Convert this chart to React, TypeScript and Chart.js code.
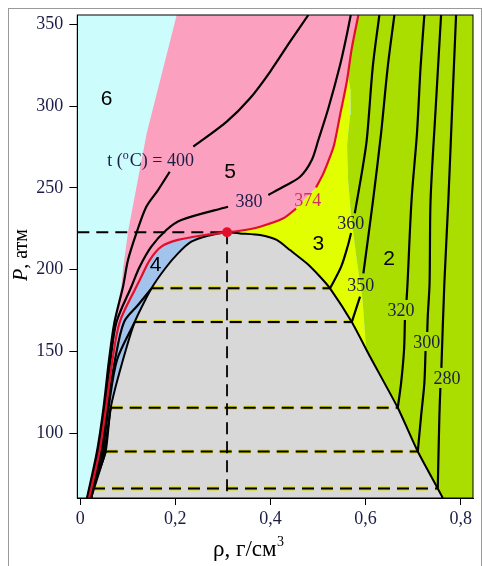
import React, { useEffect, useRef } from 'react';
import { Chart, registerables } from 'chart.js';

Chart.register(...registerables);

// ---------- axes ----------
const X_MIN = -0.006;
const X_MAX = 0.826;
const Y_MIN = 60.45;
const Y_MAX = 355.7;
const xTicks = [0, 0.2, 0.4, 0.6, 0.8];
const yTicks = [100, 150, 200, 250, 300, 350];

// ---------- critical point ----------
const critRho = 0.3088;
const critP = 222.9;

// ---------- isotherms (rho g/cm3, P atm); null = break for label ----------
const t400Rho = [0.0144, 0.0354, 0.0491, 0.0607, 0.0722, 0.0901, 0.1006, 0.1181, 0.1391, 0.1637, 0.1883, null, 0.238, 0.3082, 0.3572, 0.3993, 0.4413, 0.4798];
const t400P = [60.45, 88.9, 115.6, 144.8, 168.0, 189.6, 205.9, 222.2, 238.5, 248.7, 259.9, null, 275.2, 290.5, 304.8, 321.0, 339.4, 355.7];

const t380Rho = [0.0155, 0.0375, 0.0512, 0.0638, 0.0764, 0.1076, 0.1252, 0.1496, 0.1812, 0.2127, 0.3109, null, 0.3957, 0.4272, 0.4624, 0.487, 0.5008, 0.5219, 0.5465, 0.5606, 0.569];
const t380P = [60.45, 88.9, 115.6, 144.8, 168.0, 189.6, 201.8, 214.1, 224.3, 230.4, 238.5, null, 245.7, 250.7, 256.8, 267.1, 279.3, 298.7, 325.1, 343.5, 355.7];

const t374Rho = [0.0186, 0.0407, 0.0544, 0.068, 0.0832, 0.1181, 0.1286, 0.1463, 0.1707, 0.2058, 0.2619, 0.3088, 0.3362, 0.3782, 0.4272, 0.454, null, 0.496, 0.5114, 0.5254, 0.5338, 0.5465, 0.5606, 0.5711, 0.585];
const t374P = [60.45, 88.9, 115.6, 144.8, 168.0, 189.6, 195.7, 205.9, 214.1, 218.2, 221.2, 222.9, 223.8, 226.3, 231.4, 237.4, null, 250.3, 258.9, 269.1, 276.2, 294.6, 314.9, 335.3, 355.7];

const t360Rho = [0.0197, 0.0438, 0.0575, 0.0733, 0.0922, 0.1217, 0.15, null, 0.5254, 0.5486, 0.5633, 0.5696, null, 0.5774, 0.592, 0.6026, 0.6153, 0.6291];
const t360P = [60.45, 88.9, 115.6, 144.8, 168.0, 178.4, 188.6, null, 188.6, 201.7, 215.1, 222.4, null, 234.5, 258.9, 279.3, 324.1, 355.7];

const t350Rho = [0.0207, 0.047, 0.0596, 0.0775, 0.1147, null, 0.5711, 0.5885, null, 0.5955, 0.6159, 0.6327, 0.6468, 0.6607];
const t350P = [60.45, 88.9, 115.6, 144.8, 168.0, null, 168.0, 183.5, null, 197.8, 242.6, 283.4, 324.1, 355.7];

const t320Rho = [0.0218, 0.0502, 0.0642, null, 0.6678, 0.6748, 0.681, 0.6828, null, 0.6863, 0.6884, 0.6968, 0.7082, 0.7158, 0.7237];
const t320P = [60.45, 88.9, 115.6, null, 115.6, 130.7, 150.9, 169.3, null, 181.5, 191.9, 242.6, 283.4, 324.1, 355.7];

const t300Rho = [0.0228, 0.0537, null, 0.7099, 0.7168, 0.7237, 0.7262, null, 0.7298, 0.7309, 0.7347, 0.7368, 0.7473, 0.7589];
const t300P = [60.45, 88.9, null, 88.9, 110.4, 130.7, 150.3, null, 161.9, 171.5, 191.9, 242.6, 297.6, 355.7];

const t280Rho = [0.0239, 0.027, null, 0.7519, 0.7553, 0.7574, null, 0.7595, 0.7658, 0.7742, 0.782, 0.7904];
const t280P = [60.45, 66.3, null, 66.3, 110.4, 127.7, null, 140.0, 191.9, 242.6, 297.6, 355.7];

// ---------- saturation (two-phase) dome and tie lines ----------
const domeRho = [0.0218, 0.027, 0.0537, 0.0642, 0.087, 0.1147, 0.15, 0.1791, 0.2058, 0.2337, 0.2689, 0.3088, 0.3362, 0.3782, 0.4133, 0.4413, 0.4764, 0.5044, 0.5254, 0.5711, 0.6096, 0.6678, 0.7099, 0.7519, 0.7625];
const domeP = [60.45, 66.3, 88.9, 115.6, 141.8, 168.0, 188.6, 200.9, 210.0, 217.1, 220.8, 222.9, 222.2, 221.2, 218.2, 212.0, 203.9, 195.7, 188.6, 168.0, 146.8, 115.6, 88.9, 66.3, 60.45];

const satP = [66.3, 88.9, 115.6, 168.0, 188.6];
const satRhoVap = [0.027, 0.0537, 0.0642, 0.1147, 0.15];
const satRhoLiq = [0.7519, 0.7099, 0.6678, 0.5711, 0.5254];

// ---------- region boundaries ----------
// cyan (6) / pink (5) boundary, top to bottom
const edge65Rho = [0.203, 0.1399, 0.1013, 0.0907, 0.0865, 0.0705, 0.0595, 0.0483, 0.0345, 0.014];
const edge65P = [355.7, 283.4, 224.3, 201.8, 189.6, 168.0, 144.8, 115.6, 88.9, 60.45];
// yellow (3) / green (2) boundary, from red curve down to the dome
const edge32Rho = [0.5627, 0.5686, 0.5675, 0.5612, 0.5633, 0.5696, 0.5801, 0.5938, 0.6012];
const edge32P = [319.0, 309.8, 294.6, 276.2, 254.8, 233.4, 209.0, 181.5, 151.5];

// ---------- labels ----------
const regionTexts = ['6', '5', '4', '3', '2'];
const regionRho = [0.0554, 0.3151, 0.1585, 0.5008, 0.6495];
const regionP = [305.3, 260.6, 203.5, 216.6, 207.5];

const isoTexts = ['380', '374', '360', '350', '320', '300', '280'];
const isoRho = [0.3551, 0.4788, 0.5692, 0.5902, 0.6748, 0.729, 0.7711];
const isoP = [242.0, 242.6, 228.4, 190.6, 175.6, 155.8, 133.8];

const legendParts = ['t (', 'o', 'C) = 400'];
const legendRho = 0.2394; // right end
const legendP = 267.1;

// ---------- styles ----------
const SERIF = '"Liberation Serif", "Times New Roman", serif';
const SANS = '"Liberation Sans", Arial, sans-serif';
const CYAN = '#ccfcfc';
const PINK = '#fca0c0';
const BLUE = '#a2c4ec';
const YELLOW = '#e2ff00';
const GREEN = '#aade00';
const GRAY = '#d8d8d8';
const RED = '#e0102a';
const NAVY = '#1c1c48';
const TEXT_RED = '#d0305c';

type Pt = { x: number; y: number };
const toPts = (rho: (number | null)[], p: (number | null)[]): Pt[] =>
  rho.map((r, i) => (r === null || p[i] === null ? { x: NaN, y: NaN } : { x: r as number, y: p[i] as number }));
const pairs = (rho: (number | null)[], p: (number | null)[]): [number, number][] =>
  rho
    .map((r, i) => [r, p[i]] as [number | null, number | null])
    .filter(([r, v]) => r !== null && v !== null) as [number, number][];
const xy = (arr: [number, number][]): Pt[] => arr.map(([x, y]) => ({ x, y }));

function zeroPad(s: any) {
  s.paddingTop = 0;
  s.paddingBottom = 0;
  s.paddingLeft = 0;
  s.paddingRight = 0;
}

function buildConfig(): any {
  const red = pairs(t374Rho, t374P);
  const redLower = red.filter(([r]) => r <= critRho);
  const redUpper = red.filter(([r]) => r >= critRho);
  const dome = pairs(domeRho, domeP);
  const ci = dome.findIndex(([r, p]) => r === critRho && p === critP);
  const domeLeft = dome.slice(0, ci + 1);
  const domeRight = dome.slice(ci);
  const e65 = pairs(edge65Rho, edge65P);
  const e32 = pairs(edge32Rho, edge32P);
  const apex = e32[0];
  const tip = e32[e32.length - 1];

  const pink = [...e65, ...red];
  const blue = [...redLower, ...domeLeft.slice().reverse()];
  const yellow = [
    ...redUpper.filter(([, p]) => p < apex[1]),
    ...e32,
    ...domeRight.filter(([, p]) => p > tip[1]).reverse(),
  ];
  const green: [number, number][] = [
    ...redUpper.filter(([, p]) => p > apex[1]),
    [X_MAX, Y_MAX],
    [X_MAX, Y_MIN],
    ...domeRight.filter(([, p]) => p < tip[1]).reverse(),
    ...e32.slice().reverse(),
  ];

  const tie: Pt[] = [];
  satP.forEach((p, i) => {
    tie.push({ x: satRhoVap[i], y: p }, { x: satRhoLiq[i], y: p }, { x: NaN, y: NaN });
  });
  const critLines: Pt[] = [
    { x: X_MIN, y: critP },
    { x: critRho, y: critP },
    { x: NaN, y: NaN },
    { x: critRho, y: critP },
    { x: critRho, y: Y_MIN },
  ];

  const fillDs = (data: Pt[], color: string, order: number) => ({
    data, showLine: true, fill: 'shape', backgroundColor: color, borderWidth: 0, borderColor: 'rgba(0,0,0,0)',
    pointRadius: 0, tension: 0, order,
  });
  const lineDs = (data: Pt[], color: string, width: number, order: number, dash: number[] = [], tension = 0.3) => ({
    data, showLine: true, fill: false, borderColor: color, borderWidth: width, pointRadius: 0, tension,
    order, borderDash: dash, borderCapStyle: 'butt', borderJoinStyle: 'round',
  });

  const datasets = [
    fillDs(xy(pink), PINK, 100),
    fillDs(xy(blue), BLUE, 99),
    fillDs(xy(yellow), YELLOW, 98),
    fillDs(xy(green), GREEN, 97),
    fillDs(xy(dome), GRAY, 96),
    lineDs(tie, '#d8d800', 4, 60, [12, 7], 0),
    lineDs(tie, '#000', 2, 59, [12, 7], 0),
    lineDs(critLines, '#000', 1.8, 58, [12, 7], 0),
    lineDs(xy(dome), '#000', 2, 50, [], 0.2),
    lineDs(toPts(t400Rho, t400P), '#000', 2.2, 30),
    lineDs(toPts(t380Rho, t380P), '#000', 2.2, 30),
    lineDs(toPts(t360Rho, t360P), '#000', 2.2, 30),
    lineDs(toPts(t350Rho, t350P), '#000', 2.2, 30),
    lineDs(toPts(t320Rho, t320P), '#000', 2.2, 30),
    lineDs(toPts(t300Rho, t300P), '#000', 2.2, 30),
    lineDs(toPts(t280Rho, t280P), '#000', 2.2, 30),
    lineDs(toPts(t374Rho, t374P), RED, 2.2, 20),
    {
      data: [{ x: critRho, y: critP }], showLine: false, pointRadius: 5, pointBackgroundColor: RED,
      pointBorderWidth: 0, pointBorderColor: RED, order: 0,
    },
  ];

  const decor = {
    id: 'decor',
    beforeDraw(chart: any) {
      const { ctx, chartArea: a } = chart;
      ctx.save();
      ctx.fillStyle = CYAN;
      ctx.fillRect(a.left, a.top, a.right - a.left, a.bottom - a.top);
      ctx.restore();
    },
    afterDatasetsDraw(chart: any) {
      const { ctx, scales } = chart;
      const xs = scales.x;
      const ys = scales.y;
      ctx.save();
      ctx.textBaseline = 'alphabetic';
      ctx.textAlign = 'center';
      ctx.font = `21px ${SANS}`;
      ctx.fillStyle = '#000';
      regionTexts.forEach((t, i) => {
        ctx.fillText(t, xs.getPixelForValue(regionRho[i]), ys.getPixelForValue(regionP[i]) + 7.5);
      });
      ctx.font = `18px ${SERIF}`;
      isoTexts.forEach((t, i) => {
        ctx.fillStyle = t === '374' ? TEXT_RED : NAVY;
        ctx.fillText(t, xs.getPixelForValue(isoRho[i]), ys.getPixelForValue(isoP[i]) + 6);
      });
      // legend "t (ºC) = 400"
      ctx.textAlign = 'left';
      ctx.fillStyle = NAVY;
      ctx.font = `18px ${SERIF}`;
      const w1 = ctx.measureText(legendParts[0]).width;
      const w3 = ctx.measureText(legendParts[2]).width;
      ctx.font = `12px ${SERIF}`;
      const w2 = ctx.measureText(legendParts[1]).width;
      const right = xs.getPixelForValue(legendRho);
      const base = ys.getPixelForValue(legendP) + 6;
      let x0 = right - (w1 + w2 + w3 + 1);
      ctx.font = `18px ${SERIF}`;
      ctx.fillText(legendParts[0], x0, base);
      x0 += w1;
      ctx.font = `12px ${SERIF}`;
      ctx.fillText(legendParts[1], x0, base - 7);
      x0 += w2 + 1;
      ctx.font = `18px ${SERIF}`;
      ctx.fillText(legendParts[2], x0, base);
      ctx.restore();
    },
    afterDraw(chart: any) {
      const { ctx, chartArea: a } = chart;
      ctx.save();
      ctx.strokeStyle = '#000';
      ctx.lineWidth = 1;
      ctx.strokeRect(a.left, a.top, a.right - a.left, a.bottom - a.top);
      // y title
      ctx.fillStyle = '#000';
      ctx.save();
      ctx.translate(17.5, 246);
      ctx.rotate(-Math.PI / 2);
      ctx.textAlign = 'left';
      ctx.textBaseline = 'alphabetic';
      ctx.font = `italic 20px ${SERIF}`;
      const wp = ctx.measureText('P').width;
      ctx.font = `20px ${SERIF}`;
      const wr = ctx.measureText(', атм').width;
      let sx = -(wp + wr) / 2;
      ctx.font = `italic 20px ${SERIF}`;
      ctx.fillText('P', sx, 0);
      sx += wp;
      ctx.font = `20px ${SERIF}`;
      ctx.fillText(', атм', sx, 0);
      ctx.restore();
      // x title
      ctx.textAlign = 'left';
      ctx.textBaseline = 'alphabetic';
      ctx.font = `23px ${SERIF}`;
      const main = 'ρ, г/см';
      const wm = ctx.measureText(main).width;
      ctx.fillText(main, 204, 547);
      ctx.font = `14px ${SERIF}`;
      ctx.fillText('3', 204 + wm + 0.5, 537);
      ctx.restore();
    },
  };

  return {
    type: 'scatter',
    data: { datasets },
    options: {
      responsive: false,
      animation: false,
      devicePixelRatio: 1,
      events: [],
      layout: { padding: { left: 0, top: 6, right: 8, bottom: 0 } },
      plugins: { legend: { display: false }, tooltip: { enabled: false } },
      scales: {
        x: {
          type: 'linear',
          min: X_MIN,
          max: X_MAX,
          afterBuildTicks: (s: any) => {
            s.ticks = xTicks.map((v) => ({ value: v }));
          },
          afterFit: (s: any) => {
            s.height = 68;
            zeroPad(s);
          },
          ticks: {
            font: { family: SERIF, size: 18 },
            color: NAVY,
            padding: 3,
            autoSkip: false,
            maxRotation: 0,
            callback: (v: any) => String(v).replace('.', ','),
          },
          grid: { drawOnChartArea: false, tickLength: 7, color: '#000', tickWidth: 1 },
          border: { color: '#000', width: 1 },
        },
        y: {
          type: 'linear',
          min: Y_MIN,
          max: Y_MAX,
          afterBuildTicks: (s: any) => {
            s.ticks = yTicks.map((v) => ({ value: v }));
          },
          afterFit: (s: any) => {
            s.width = 68.3;
            zeroPad(s);
          },
          ticks: {
            font: { family: SERIF, size: 18 },
            color: NAVY,
            padding: 6,
            autoSkip: false,
          },
          grid: { drawOnChartArea: false, tickLength: 8, color: '#000', tickWidth: 1 },
          border: { color: '#000', width: 1 },
        },
      },
    },
    plugins: [decor],
  };
}

export default function App() {
  const ref = useRef<HTMLCanvasElement | null>(null);
  useEffect(() => {
    if (!ref.current) return;
    const chart = new Chart(ref.current, buildConfig());
    return () => chart.destroy();
  }, []);
  return (
    <div
      style={{
        position: 'fixed',
        left: 8,
        top: 8,
        width: 474,
        height: 558,
        boxSizing: 'border-box',
        borderTop: '1px solid #9a9a9a',
        borderLeft: '1px solid #9a9a9a',
        borderRight: '1px solid #9a9a9a',
        background: '#fff',
      }}
    >
      <canvas ref={ref} width={472} height={557} style={{ display: 'block', width: 472, height: 557 }} />
    </div>
  );
}
